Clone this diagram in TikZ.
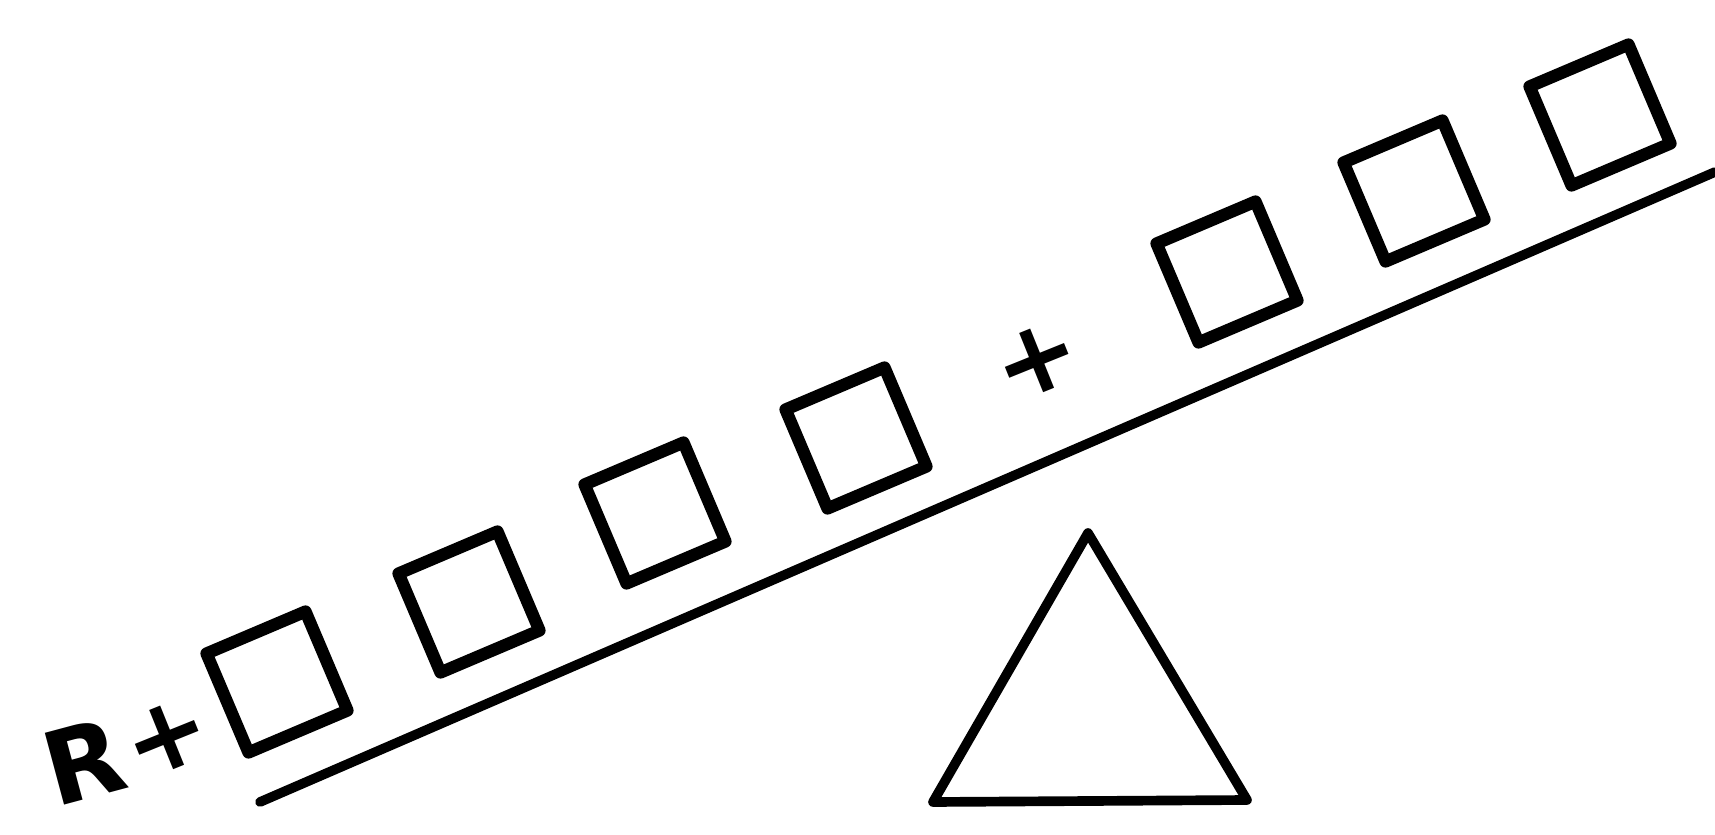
\documentclass[tikz,border=0pt]{standalone}
\usepackage{fontspec}
\newfontfamily\handfont{DejaVu Sans}
\begin{document}
\begin{tikzpicture}[line join=round, line cap=round,
    weight/.style={draw, line width=7pt, minimum size=2.15cm, inner sep=0pt, rotate=23},
    sign/.style={font=\handfont\bfseries\fontsize{58}{58}\selectfont, inner sep=0pt, rotate=22}]
  \useasboundingbox (0,0) rectangle (34.3,16.68);
  % plank and pivot
  \draw[line width=5.5pt] (5.2,0.64) -- (34.3,13.24);
  \draw[line width=5.5pt] (21.76,6.02) -- (24.94,0.68) -- (18.66,0.64) -- cycle;
  % weights on the plank
  \foreach \x/\y/\n in {5.54/3.04/1, 9.38/4.64/2, 13.10/6.42/3, 17.12/7.92/4,
                        24.54/11.24/5, 28.28/12.86/6, 32.00/14.38/7}
    \node[weight] (box\n) at (\x,\y) {};
  \node[sign, rotate=-7] (rname) at (1.68,1.45) {R};
  \node[sign] (rplus) at (3.35,1.92) {+};
  \node[sign] (plus) at (20.74,9.46) {+};
\end{tikzpicture}
\end{document}
